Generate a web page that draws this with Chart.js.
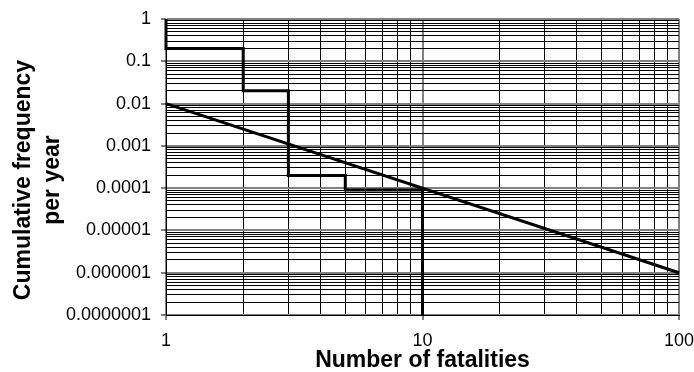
<!DOCTYPE html>
<html>
<head>
<meta charset="utf-8">
<script src="https://cdn.jsdelivr.net/npm/chart.js@4/dist/chart.umd.min.js"></script>
<style>
  html, body { margin: 0; padding: 0; background: #fff; }
  #wrap { width: 694px; height: 372px; }
</style>
</head>
<body>
<div id="wrap"><canvas id="fnChart"></canvas></div>
<script>
// step curve: vertices
var stepFatalities = [1, 1, 2, 2, 3, 3, 5, 5, 10, 10];
var stepFrequency = [1, 0.2, 0.2, 0.02, 0.02, 0.0002, 0.0002, 0.00009, 0.00009, 0.0000001];
// straight criterion line
var critFatalities = [1, 100];
var critFrequency = [0.01, 0.000001];
// axis labels
var xTickLabels = ['1', '10', '100'];
var yTickLabels = ['0.0000001', '0.000001', '0.00001', '0.0001', '0.001', '0.01', '0.1', '1'];
var xTitle = 'Number of fatalities';
var yTitleLines = ['Cumulative frequency', 'per year'];

document.addEventListener('DOMContentLoaded', function() {
    Chart.defaults.font.family = "'Liberation Sans', Arial, sans-serif";
    Chart.defaults.color = '#000';

    // log grid: 1..9 in every decade
    var xGrid = [];
    for (var e = 0; e < 2; e++) {
        for (var m = 1; m < 10; m++) xGrid.push(m * Math.pow(10, e));
    }
    xGrid.push(100);
    var yGrid = [];
    for (var k = -7; k < 0; k++) {
        for (var n = 1; n < 10; n++) yGrid.push(parseFloat((n * Math.pow(10, k)).toPrecision(6)));
    }
    yGrid.push(1);

    function isMajor(v) {
        var l = Math.log10(v);
        return Math.abs(l - Math.round(l)) < 1e-9;
    }
    function toPoints(xs, ys) {
        return xs.map(function(x, i) { return { x: x, y: ys[i] }; });
    }

    var grid = {
        color: function(c) { return c.tick && isMajor(c.tick.value) ? '#808080' : '#000'; },
        lineWidth: function(c) { return c.tick && isMajor(c.tick.value) ? 2 : 1; },
        tickColor: function(c) { return c.tick && isMajor(c.tick.value) ? '#000' : 'rgba(0,0,0,0)'; },
        tickWidth: 1,
        tickLength: 5,
        drawTicks: true
    };

    // y title drawn by hand so it sits a little below the plot centre like the original
    var yTitlePlugin = {
        id: 'yTitle',
        afterDraw: function(chart) {
            var ctx = chart.ctx;
            var area = chart.chartArea;
            var cy = (area.top + area.bottom) / 2 + 13;
            ctx.save();
            ctx.fillStyle = '#000';
            ctx.font = "bold 23px 'Liberation Sans', Arial, sans-serif";
            ctx.textAlign = 'center';
            ctx.textBaseline = 'middle';
            var xs = [24, 53];
            yTitleLines.forEach(function(line, i) {
                ctx.save();
                ctx.translate(xs[i], cy);
                ctx.rotate(-Math.PI / 2);
                ctx.fillText(line, 0, 0);
                ctx.restore();
            });
            ctx.restore();
        }
    };

    new Chart(document.getElementById('fnChart'), {
        type: 'scatter',
        data: {
            datasets: [{
                data: toPoints(stepFatalities, stepFrequency),
                showLine: true,
                borderColor: '#000',
                borderWidth: 3,
                pointRadius: 0,
                fill: false,
                clip: false
            }, {
                data: toPoints(critFatalities, critFrequency),
                showLine: true,
                borderColor: '#000',
                borderWidth: 3,
                pointRadius: 0,
                fill: false,
                clip: false
            }]
        },
        options: {
            responsive: true,
            maintainAspectRatio: false,
            animation: false,
            layout: { padding: { top: 19, right: 15, bottom: 0, left: 0 } },
            plugins: {
                legend: { display: false },
                tooltip: { enabled: false }
            },
            scales: {
                x: {
                    type: 'logarithmic',
                    min: 1,
                    max: 100,
                    afterBuildTicks: function(s) {
                        s.ticks = xGrid.map(function(v) { return { value: v }; });
                    },
                    afterFit: function(s) {
                        s.height = 57;
                        s.paddingLeft = 0;
                        s.paddingRight = 0;
                    },
                    grid: grid,
                    border: { display: true, color: '#000', width: 1 },
                    ticks: {
                        autoSkip: false,
                        maxRotation: 0,
                        minRotation: 0,
                        padding: 10,
                        font: { size: 18 },
                        callback: function(v) {
                            return isMajor(v) ? xTickLabels[Math.round(Math.log10(v))] : '';
                        }
                    },
                    title: {
                        display: true,
                        text: xTitle,
                        font: { size: 23, weight: 'bold', lineHeight: 1 },
                        padding: 0
                    }
                },
                y: {
                    type: 'logarithmic',
                    min: 0.0000001,
                    max: 1,
                    afterBuildTicks: function(s) {
                        s.ticks = yGrid.map(function(v) { return { value: v }; });
                    },
                    afterFit: function(s) {
                        s.width = 166;
                        s.paddingTop = 0;
                        s.paddingBottom = 0;
                    },
                    grid: grid,
                    border: { display: true, color: '#000', width: 1 },
                    ticks: {
                        autoSkip: false,
                        padding: 10,
                        font: { size: 18 },
                        callback: function(v) {
                            return isMajor(v) ? yTickLabels[Math.round(Math.log10(v)) + 7] : '';
                        }
                    }
                }
            }
        },
        plugins: [yTitlePlugin]
    });
});
</script>
</body>
</html>
